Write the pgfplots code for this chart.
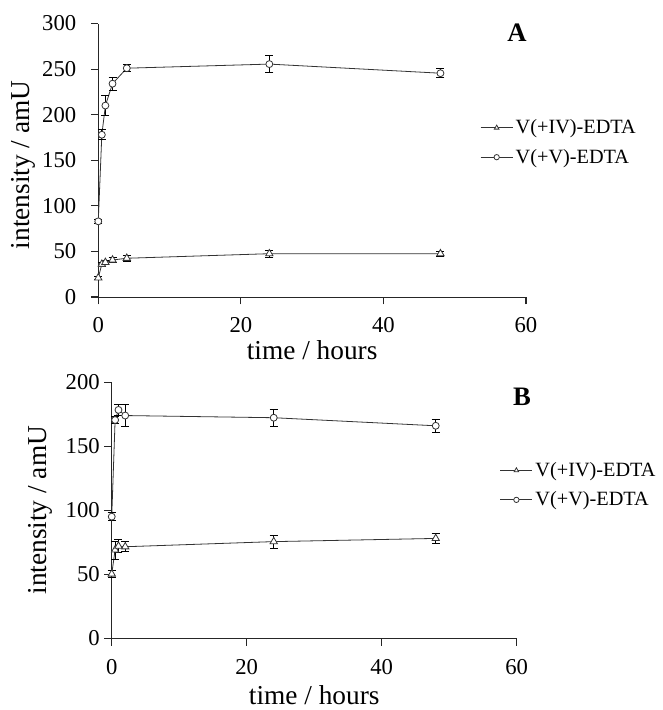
\documentclass[border=0pt]{standalone}
\usepackage{pgfplots}
\pgfplotsset{compat=1.18}
\usepackage{fontspec}
\setmainfont{Liberation Serif}

\pgfplotstableread{
x y e
0 21 2
0.5 36 2
1 38 2.5
2 40.6 2.5
4 42.5 3
24 47.5 4
48 47.5 3
}\Aiv
\pgfplotstableread{
x y e
0 83 2
0.5 178 5.5
1 210 11
2 234 7.3
4 251 4
24 255.5 9.5
48 245.5 5
}\Av
\pgfplotstableread{
x y e
0 50.2 3
0.5 69 7
1 72 5
2 71.5 4
24 75.5 5.2
48 78 4
}\Biv
\pgfplotstableread{
x y e
0 95 3
0.5 170.5 3
1 178.4 4
2 174 8.4
24 172.3 6.6
48 166 5
}\Bv

\pgfplotsset{
  panel/.style={
    scale only axis,
    axis x line=bottom, axis y line=left,
    axis line style={-, black!85, line width=0.7pt},
    xtick pos=bottom, ytick pos=left,
    xtick align=outside, ytick align=outside,
    major tick length=5.5pt,
    major tick style={draw=black!85, line width=0.8pt},
    xmin=0, xmax=60, xtick={0,20,40,60},
    ymin=0,
    /pgf/number format/assume math mode=true,
    tick label style={font=\fontsize{17}{20}\selectfont},
    xticklabel style={yshift=-6.5pt},
    label style={font=\fontsize{20.5}{24}\selectfont},
    xlabel={time / hours}, ylabel={intensity / amU},
    legend style={draw=none, fill=none, inner sep=0pt, anchor=west,
      font=\fontsize{15.2}{18}\selectfont, row sep=6pt,
      nodes={inner sep=2pt}},
    legend cell align=left,
    legend image code/.code={
      \draw[mark repeat=2,mark phase=2,mark size=2pt] plot coordinates {(0pt,0pt) (12pt,0pt) (24pt,0pt)};},
    clip=false,
  },
  ser/.style={black!80, line width=0.6pt, mark options={fill=white, solid, line width=0.6pt},
    error bars/y dir=both, error bars/y explicit,
    error bars/error bar style={line width=0.6pt, black},
    error bars/error mark options={rotate=90, mark size=3pt, line width=0.6pt, black}},
}

\begin{document}
\begin{tikzpicture}
\useasboundingbox (0,0) rectangle (496.5pt,532.5pt);
% Panel A
\begin{axis}[panel,
  at={(73.7pt,309.75pt)}, anchor=south west,
  width=320.8pt, height=205.1pt,
  ymax=300, ytick={0,50,...,300},
  yticklabel style={xshift=-7.5pt},
  xlabel style={at={(axis description cs:0.5,-0.194)}, anchor=center},
  ylabel style={at={(axis description cs:-0.176,0.483)}, anchor=center},
  legend style={at={(rel axis cs:0.8925,0.565)}},
]
\addplot[ser, mark=triangle*, mark size=3.2pt] table[x=x,y=y,y error=e] {\Aiv};
\addlegendentry{V(+IV)-EDTA}
\addplot[ser, mark=*, mark size=2.6pt] table[x=x,y=y,y error=e] {\Av};
\addlegendentry{V(+V)-EDTA}
\node[font=\fontsize{20}{24}\selectfont\bfseries] at (rel axis cs:0.979,0.965) {A};
\end{axis}
% Panel B
\begin{axis}[panel,
  at={(83.8pt,53.8pt)}, anchor=south west,
  width=303.75pt, height=192pt,
  ymax=200, ytick={0,50,...,200},
  xlabel style={at={(axis description cs:0.5,-0.221)}, anchor=center},
  ylabel style={at={(axis description cs:-0.177,0.5)}, anchor=center},
  legend style={at={(rel axis cs:0.958,0.598)}},
]
\addplot[ser, mark=triangle*, mark size=3.2pt] table[x=x,y=y,y error=e] {\Biv};
\addlegendentry{V(+IV)-EDTA}
\addplot[ser, mark=*, mark size=2.6pt] table[x=x,y=y,y error=e] {\Bv};
\addlegendentry{V(+V)-EDTA}
\node[font=\fontsize{20}{24}\selectfont\bfseries] at (rel axis cs:1.013,0.943) {B};
\end{axis}
\end{tikzpicture}
\end{document}
